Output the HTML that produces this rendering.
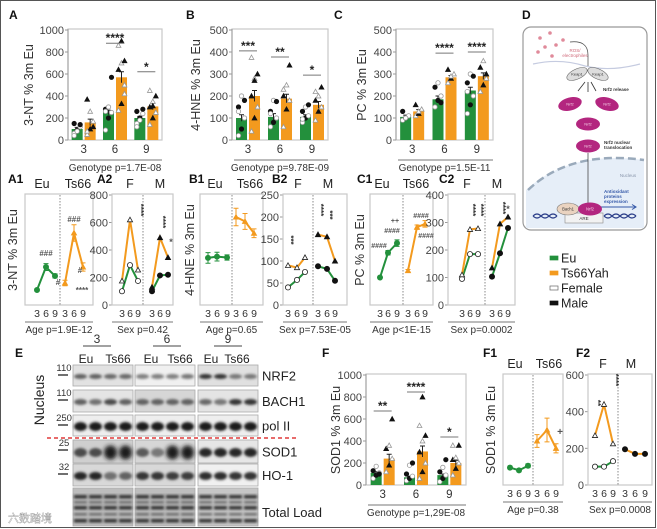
<!DOCTYPE html>
<html><head><meta charset="utf-8"><style>
html,body{margin:0;padding:0;background:#fff;}
svg{display:block;font-family:"Liberation Sans",Arial,sans-serif;}
</style></head><body>
<svg id="fig" width="657" height="529" viewBox="0 0 657 529" xmlns="http://www.w3.org/2000/svg">
<defs>
<filter id="blur1" x="-50%" y="-50%" width="200%" height="200%"><feGaussianBlur stdDeviation="1.2"/></filter>
<filter id="blur2" x="-50%" y="-50%" width="200%" height="200%"><feGaussianBlur stdDeviation="2"/></filter>
</defs>
<rect x="0.5" y="0.5" width="655" height="527" fill="none" stroke="#555" stroke-width="1"/>
<g id="root"></g>
</svg>
<script>
// ---------- DATA ----------
const ages = ['3','6','9'];
// Panel A (3-NT)
const A_eu = [100, 250, 200];
const A_ts = [160, 570, 305];
const A_euErr = [15, 20, 15];
const A_tsErr = [30, 50, 30];
const A_euDots = [[60,90,120,150,80,140,40],[90,200,250,280,300,570,260],[150,200,240,260,180,280,120]];
const A_tsDots = [[50,100,170,370,260,120,80],[270,330,420,640,700,720,860,900,500],[140,200,250,300,350,400,450,310]];
const A_stars = ['', '****', '*'];
const A_starY = [0, 880, 620];
const A_ticks = [0, 200, 400, 600, 800, 1000];
// Panel B (4-HNE)
const B_eu = [100, 105, 105];
const B_ts = [200, 188, 160];
const B_euErr = [15, 15, 10];
const B_tsErr = [25, 20, 15];
const B_euDots = [[20,50,100,150,200,180,130],[60,80,100,130,180,175,120],[80,100,110,130,150,160,95]];
const B_tsDots = [[40,100,150,200,280,300,375,270],[60,140,180,200,250,340,230],[90,130,150,180,200,240,220]];
const B_stars = ['***', '**', '*'];
const B_starY = [405, 377, 295];
const B_ticks = [0, 100, 200, 300, 400, 500];
// Panel C (PC)
const C_eu = [105, 185, 225];
const C_ts = [130, 285, 290];
const C_euErr = [8, 15, 15];
const C_tsErr = [8, 8, 15];
const C_euDots = [[90,100,110,130,100],[150,180,200,240,260,170],[120,160,200,260,300,290,220]];
const C_tsDots = [[110,120,140,160,130],[260,280,300,320,290],[220,250,280,330,360,300]];
const C_stars = ['', '****', '****'];
const C_starY = [0, 395, 400];
const C_ticks = [0, 100, 200, 300, 400, 500];
// Panel F (SOD1)
const F_eu = [110, 70, 90];
const F_ts = [240, 305, 200];
const F_euErr = [10, 10, 10];
const F_tsErr = [40, 50, 25];
const F_euDots = [[60,90,110,130,170,100],[40,60,80,100,180,200],[30,60,90,120,160,230]];
const F_tsDots = [[120,180,240,330,360,600],[60,120,200,300,400,450,540,800],[90,150,200,230,250,360,360]];
const F_stars = ['**', '****', '*'];
const F_starY = [673, 845, 436];
const F_ticks = [0, 200, 400, 600, 800, 1000];
// Age panels (Eu / Ts66 means)
const A1_eu = [109, 276, 211];
const A1_ts = [160, 524, 276];
const A1_euErr = [10, 25, 15];
const A1_tsErr = [20, 60, 30];
const B1_eu = [107, 110, 108];
const B1_ts = [200, 190, 163];
const B1_euErr = [12, 10, 6];
const B1_tsErr = [20, 18, 10];
const C1_eu = [100, 190, 225];
const C1_ts = [125, 283, 295];
const C1_euErr = [4, 8, 12];
const C1_tsErr = [4, 8, 12];
const F1_eu = [95, 80, 105];
const F1_ts = [240, 300, 200];
const F1_euErr = [8, 8, 10];
const F1_tsErr = [35, 65, 25];
// Sex panels: F-Eu, F-Ts, M-Eu, M-Ts
const A2_fEu = [100, 290, 175];
const A2_fTs = [175, 620, 255];
const A2_mEu = [100, 215, 220];
const A2_mTs = [130, 490, 345];
const B2_fEu = [40, 57, 75];
const B2_fTs = [90, 85, 108];
const B2_mEu = [88, 82, 55];
const B2_mTs = [160, 155, 100];
const C2_fEu = [95, 185, 185];
const C2_fTs = [110, 275, 278];
const C2_mEu = [103, 188, 280];
const C2_mTs = [135, 295, 320];
const F2_fEu = [100, 100, 130];
const F2_fTs = [270, 440, 225];
const F2_mTs = [195, 170, 170];
const A2_ticks = [0, 200, 400, 600, 800];
const B2_ticks = [0, 50, 100, 150, 200, 250];
const C2_ticks = [0, 100, 200, 300, 400];
const F2_ticks = [0, 200, 400, 600];

// ---------- HELPERS ----------
const NS = 'http://www.w3.org/2000/svg';
const root = document.getElementById('root');
const GREEN = '#23903c', ORANGE = '#f39a1e', GRID = '#c8c8c8';
function mk(tag, attrs, parent) {
  const el = document.createElementNS(NS, tag);
  for (const k in attrs) el.setAttribute(k, attrs[k]);
  (parent || root).appendChild(el);
  return el;
}
function txt(x, y, s, size, opts, parent) {
  const o = Object.assign({x: x, y: y, 'font-size': size, fill: '#222', 'text-anchor': 'middle'}, opts || {});
  const t = mk('text', o, parent);
  t.textContent = s;
  return t;
}
function lin(v, max, yTop, yBot) { return yBot - (v / max) * (yBot - yTop); }

function marker(g, x, y, kind, fill, stroke, r) {
  let el;
  if (kind === 'tri') {
    el = mk('polygon', {points: `${x},${y - r} ${x - r},${y + r * 0.8} ${x + r},${y + r * 0.8}`, fill: fill, stroke: stroke, 'stroke-width': 0.8}, g);
  } else {
    el = mk('circle', {cx: x, cy: y, r: r, fill: fill, stroke: stroke, 'stroke-width': 0.8}, g);
  }
  return el;
}

function barPanel(p) {
  const g = mk('g', {});
  
  
  const max = p.ticks[p.ticks.length - 1];
  const y = v => lin(v, max, p.yTop, p.yBot);
  const fr = mk('rect', {x: p.x0, y: p.yTop - 1, width: p.x1 - p.x0, height: p.yBot - p.yTop + 1, fill: 'none', stroke: GRID, 'stroke-width': 1.2}, g);
  
  
  const ax = mk('line', {x1: p.x0, y1: p.yTop - 1, x2: p.x0, y2: p.yBot, stroke: '#999', 'stroke-width': 1}, g);
  
  
  p.ticks.forEach(t => {
    const tk = mk('line', {x1: p.x0 - 3, y1: y(t), x2: p.x0, y2: y(t), stroke: '#999'}, g);
    
    
    const tl = txt(p.x0 - 4, y(t) + 4, String(t), 11, {'text-anchor': 'end', fill: '#444'}, g);
    
    
  });
  const yl = txt(0, 0, p.ylabel, 12.5, {transform: `translate(${p.ylx},${(p.yTop + p.yBot) / 2}) rotate(-90)`, fill: '#333'}, g);
  
  
  const bw = (p.x1 - p.x0) / 3;
  ages.forEach((a, i) => {
    const c = p.x0 + (i + 0.5) * bw;
    const w = 11;
    const b1 = mk('rect', {x: c - w - 1, y: y(p.eu[i]), width: w, height: p.yBot - y(p.eu[i]), fill: GREEN}, g);
    
    
    const b2 = mk('rect', {x: c + 1, y: y(p.ts[i]), width: w, height: p.yBot - y(p.ts[i]), fill: ORANGE}, g);
    
    
    [[c - w / 2 - 1, p.eu[i], p.euErr[i]], [c + w / 2 + 1, p.ts[i], p.tsErr[i]]].forEach(e => {
      const eb = mk('path', {d: `M${e[0]},${y(e[1] - e[2])}V${y(e[1] + e[2])}M${e[0] - 2.5},${y(e[1] + e[2])}H${e[0] + 2.5}`, stroke: '#222', 'stroke-width': 1, fill: 'none'}, g);
      
      
    });
    p.euDots[i].forEach((v, j) => {
      const d = marker(g, c - w / 2 - 1 + ((j % 3) - 1) * 3, y(v), 'circle', j % 2 ? '#111' : '#fff', j % 2 ? '#111' : '#999', 2.2);
      
      
    });
    p.tsDots[i].forEach((v, j) => {
      const d = marker(g, c + w / 2 + 1 + ((j % 3) - 1) * 3, y(v), 'tri', j % 2 ? '#111' : '#fff', j % 2 ? '#111' : '#999', 2.4);
      
      
    });
    const xl = txt(c, p.yBot + 13, a, 11.5, {fill: '#333'}, g);
    
    
    if (p.stars[i]) {
      const sl = mk('line', {x1: c - 9, y1: y(p.starY[i]), x2: c + 9, y2: y(p.starY[i]), stroke: '#777'}, g);
      
      
      const st = txt(c, y(p.starY[i]) - 1, p.stars[i], 12, {'font-weight': 'bold'}, g);
      
      
    }
  });
  const ul = mk('line', {x1: p.x0 + 2, y1: p.yBot + 20, x2: p.x1, y2: p.yBot + 20, stroke: '#777'}, g);
  
  
  const stt = txt((p.x0 + p.x1) / 2, p.yBot + 31, p.stat, 10, {fill: '#333'}, g);
  
  
}

function panelLetter(x, y, s, name) {
  const t = txt(x, y, s, 12, {'font-weight': 'bold', 'text-anchor': 'start', fill: '#111'});
  
  
}

function series(g, xs, vals, errs, max, yTop, yBot, color, kind, fill, stroke, name) {
  const y = v => lin(v, max, yTop, yBot);
  const pl = mk('polyline', {points: xs.map((x, i) => `${x},${y(vals[i])}`).join(' '), fill: 'none', stroke: color, 'stroke-width': 2}, g);
  
  
  xs.forEach((x, i) => {
    if (errs) {
      const e = errs[i];
      const eb = mk('path', {d: `M${x},${y(vals[i] - e)}V${y(vals[i] + e)}M${x - 2.5},${y(vals[i] + e)}H${x + 2.5}M${x - 2.5},${y(vals[i] - e)}H${x + 2.5}`, stroke: color, 'stroke-width': 1, fill: 'none'}, g);
      
      
    }
    const m = marker(g, x, y(vals[i]), kind, fill, stroke, 2.6);
    
    
  });
}

function linePanel(p) {
  const g = mk('g', {});
  
  
  const fr = mk('rect', {x: p.x0, y: p.yTop - 1, width: p.x1 - p.x0, height: p.yBot - p.yTop + 1, fill: 'none', stroke: GRID, 'stroke-width': 1.2}, g);
  
  
  const dv = mk('line', {x1: p.xd, y1: p.yTop, x2: p.xd, y2: p.yBot, stroke: '#888', 'stroke-dasharray': '1.5,1.5'}, g);
  
  
  p.heads.forEach((h, i) => {
    const t = txt(p.headX[i], p.yTop - 7, h, 12.5, {fill: '#222'}, g);
    
    
  });
  p.xs.forEach((x, i) => {
    const t = txt(x, p.yBot + 12, ages[i % 3], 10.5, {fill: '#333'}, g);
    
    
  });
  const ul = mk('line', {x1: p.x0, y1: p.yBot + 17, x2: p.x1, y2: p.yBot + 17, stroke: '#777'}, g);
  
  
  const st = txt((p.x0 + p.x1) / 2, p.yBot + 28, p.stat, 10, {fill: '#333'}, g);
  
  
  return g;
}

function yAxis(x, ticks, yTop, yBot, side, title, tx) {
  const g = mk('g', {});
  
  
  const max = ticks[ticks.length - 1];
  const l = mk('line', {x1: x, y1: yTop - 1, x2: x, y2: yBot, stroke: '#999'}, g);
  
  
  ticks.forEach(t => {
    const yy = lin(t, max, yTop, yBot);
    const tk = mk('line', {x1: x - 3, y1: yy, x2: x, y2: yy, stroke: '#999'}, g);
    
    
    const tl = txt(side === 'left' ? x - 4 : x + 4, yy + 4, String(t), 11, {'text-anchor': side === 'left' ? 'end' : 'start', fill: '#444'}, g);
    
    
  });
  if (title) {
    const yt = txt(0, 0, title, 12.5, {transform: `translate(${tx},${(yTop + yBot) / 2}) rotate(-90)`, fill: '#333'}, g);
    
    
  }
}

function note(x, y, s, size, rot) {
  const t = txt(x, y, s, size || 9, rot ? {transform: `rotate(90 ${x} ${y})`, 'font-weight': 'bold', fill: '#333'} : {'font-weight': 'bold', fill: '#555'});
  
  
}

// ---------- TOP ROW ----------
panelLetter(9, 19, 'A', 'panel-label-a');
panelLetter(186, 19, 'B', 'panel-label-b');
panelLetter(334, 19, 'C', 'panel-label-c');
barPanel({name: 'chart-a-3nt', x0: 68, x1: 162, yTop: 30, yBot: 140, ticks: A_ticks, ylabel: '3-NT % 3m Eu', ylx: 33, eu: A_eu, ts: A_ts, euErr: A_euErr, tsErr: A_tsErr, euDots: A_euDots, tsDots: A_tsDots, stars: A_stars, starY: A_starY, stat: 'Genotype p=1.7E-08'});
barPanel({name: 'chart-b-4hne', x0: 232, x1: 328, yTop: 30, yBot: 140, ticks: B_ticks, ylabel: '4-HNE % 3m Eu', ylx: 200, eu: B_eu, ts: B_ts, euErr: B_euErr, tsErr: B_tsErr, euDots: B_euDots, tsDots: B_tsDots, stars: B_stars, starY: B_starY, stat: 'Genotype p=9.78E-09'});
barPanel({name: 'chart-c-pc', x0: 396, x1: 493, yTop: 30, yBot: 140, ticks: C_ticks, ylabel: 'PC % 3m Eu', ylx: 366, eu: C_eu, ts: C_ts, euErr: C_euErr, tsErr: C_tsErr, euDots: C_euDots, tsDots: C_tsDots, stars: C_stars, starY: C_starY, stat: 'Genotype p=1.5E-11'});

// ---------- SECOND ROW ----------
const R2T = 195, R2B = 305;
panelLetter(8, 183, 'A1', 'panel-label-a1');
panelLetter(97, 183, 'A2', 'panel-label-a2');
panelLetter(189, 183, 'B1', 'panel-label-b1');
panelLetter(272, 183, 'B2', 'panel-label-b2');
panelLetter(357, 183, 'C1', 'panel-label-c1');
panelLetter(439, 183, 'C2', 'panel-label-c2');
let g = linePanel({name: 'chart-a1-age', x0: 25, x1: 93, xd: 60, yTop: R2T, yBot: R2B, heads: ['Eu', 'Ts66'], headX: [42, 78], xs: [37, 46, 55, 65, 74, 83], stat: 'Age p=1.9E-12'});
series(g, [37, 46, 55], A1_eu, A1_euErr, 800, R2T, R2B, GREEN, 'circle', GREEN, GREEN, 'a1-eu');
series(g, [65, 74, 83], A1_ts, A1_tsErr, 800, R2T, R2B, ORANGE, 'tri', ORANGE, ORANGE, 'a1-ts66');
note(46, 256, '###', 8); note(58, 285, '#', 8); note(74, 222, '###', 8); note(80, 273, '#', 8); note(82, 293, '****', 8);
yAxis(112, A2_ticks, R2T, R2B, 'left', '3-NT % 3m Eu', 17);
g = linePanel({name: 'chart-a2-sex', x0: 112, x1: 173, xd: 143, yTop: R2T, yBot: R2B, heads: ['F', 'M'], headX: [130, 160], xs: [122, 130, 138, 152, 160, 168], stat: 'Sex p=0.42'});
series(g, [122, 130, 138], A2_fEu, null, 800, R2T, R2B, GREEN, 'circle', '#fff', '#222', 'a2-female-eu');
series(g, [122, 130, 138], A2_fTs, null, 800, R2T, R2B, ORANGE, 'tri', '#fff', '#222', 'a2-female-ts66');
series(g, [152, 160, 168], A2_mEu, null, 800, R2T, R2B, GREEN, 'circle', '#111', '#111', 'a2-male-eu');
series(g, [152, 160, 168], A2_mTs, null, 800, R2T, R2B, ORANGE, 'tri', '#111', '#111', 'a2-male-ts66');
note(138, 210, '****', 8, true); note(160, 222, '****', 8, true); note(171, 245, '*', 9);
g = linePanel({name: 'chart-b1-age', x0: 200, x1: 263, xd: 232, yTop: R2T, yBot: R2B, heads: ['Eu', 'Ts66'], headX: [215, 250], xs: [208, 217, 227, 236, 245, 254], stat: 'Age p=0.65'});
series(g, [208, 217, 227], B1_eu, B1_euErr, 250, R2T, R2B, GREEN, 'circle', GREEN, GREEN, 'b1-eu');
series(g, [236, 245, 254], B1_ts, B1_tsErr, 250, R2T, R2B, ORANGE, 'tri', ORANGE, ORANGE, 'b1-ts66');
yAxis(283, B2_ticks, R2T, R2B, 'left', '4-HNE % 3m Eu', 194);
g = linePanel({name: 'chart-b2-sex', x0: 283, x1: 347, xd: 313, yTop: R2T, yBot: R2B, heads: ['F', 'M'], headX: [298, 328], xs: [288, 297, 305, 318, 327, 335], stat: 'Sex p=7.53E-05'});
series(g, [288, 297, 305], B2_fEu, null, 250, R2T, R2B, GREEN, 'circle', '#fff', '#222', 'b2-female-eu');
series(g, [288, 297, 305], B2_fTs, null, 250, R2T, R2B, ORANGE, 'tri', '#fff', '#222', 'b2-female-ts66');
series(g, [318, 327, 335], B2_mEu, null, 250, R2T, R2B, GREEN, 'circle', '#111', '#111', 'b2-male-eu');
series(g, [318, 327, 335], B2_mTs, null, 250, R2T, R2B, ORANGE, 'tri', '#111', '#111', 'b2-male-ts66');
note(288, 240, '***', 8, true); note(318, 210, '****', 8, true); note(327, 215, '***', 8, true);
g = linePanel({name: 'chart-c1-age', x0: 370, x1: 433, xd: 403, yTop: R2T, yBot: R2B, heads: ['Eu', 'Ts66'], headX: [382, 416], xs: [380, 388, 397, 408, 417, 425], stat: 'Age p<1E-15'});
series(g, [380, 388, 397], C1_eu, C1_euErr, 400, R2T, R2B, GREEN, 'circle', GREEN, GREEN, 'c1-eu');
series(g, [408, 417, 425], C1_ts, C1_tsErr, 400, R2T, R2B, ORANGE, 'tri', ORANGE, ORANGE, 'c1-ts66');
note(379, 248, '####', 7); note(392, 233, '####', 7); note(395, 223, '++', 7); note(421, 218, '####', 7); note(426, 238, '####', 7);
yAxis(448, C2_ticks, R2T, R2B, 'left', 'PC % 3m Eu', 364);
g = linePanel({name: 'chart-c2-sex', x0: 448, x1: 515, xd: 485, yTop: R2T, yBot: R2B, heads: ['F', 'M'], headX: [467, 497], xs: [462, 470, 478, 492, 500, 508], stat: 'Sex p=0.0002'});
series(g, [462, 470, 478], C2_fEu, null, 400, R2T, R2B, GREEN, 'circle', '#fff', '#222', 'c2-female-eu');
series(g, [462, 470, 478], C2_fTs, null, 400, R2T, R2B, ORANGE, 'tri', '#fff', '#222', 'c2-female-ts66');
series(g, [492, 500, 508], C2_mEu, null, 400, R2T, R2B, GREEN, 'circle', '#111', '#111', 'c2-male-eu');
series(g, [492, 500, 508], C2_mTs, null, 400, R2T, R2B, ORANGE, 'tri', '#111', '#111', 'c2-male-ts66');
note(470, 210, '****', 8, true); note(478, 210, '****', 8, true); note(500, 208, '****', 8, true); note(508, 212, '*', 9);

// ---------- PANEL D (diagram) ----------
(function () {
  const d = mk('g', {});
  
  
  panelLetter(522, 19, 'D', 'panel-label-d');
  const box = mk('rect', {x: 523, y: 27, width: 124, height: 203, rx: 8, fill: '#fff', stroke: '#999', 'stroke-width': 1.2}, d);
  
  
  const nuc = mk('path', {d: 'M526,228 L526,190 Q570,150 644,160 L644,228 Z', fill: '#e6eef8', stroke: 'none'}, d);
  
  
  const nucE = mk('path', {d: 'M528,190 Q570,150 644,160', fill: 'none', stroke: '#9aaabb', 'stroke-width': 2.5, 'stroke-dasharray': '8,4'}, d);
  
  
  const mem = mk('path', {d: 'M533,64 Q560,58 585,66 Q610,72 640,64', fill: 'none', stroke: '#c5cbe0', 'stroke-width': 1.2}, d);
  
  
  [[540, 38], [550, 33], [545, 47], [556, 45], [563, 40], [538, 52], [552, 56]].forEach(pt => {
    const c = mk('circle', {cx: pt[0], cy: pt[1], r: 1.8, fill: '#e08a9a'}, d);
    
    
  });
  const ros = txt(575, 52, 'ROS/', 4.5, {fill: '#d06a7a'}, d);
  
  
  const ros2 = txt(575, 57, 'electrophiles', 4.5, {fill: '#d06a7a'}, d);
  
  
  const ar0 = mk('path', {d: 'M570,42 Q588,40 588,55 V66', fill: 'none', stroke: '#444', 'stroke-width': 0.7}, d);
  
  
  [[577, 'Keap1', -25], [598, 'Keap1', 25]].forEach(k => {
    const e = mk('ellipse', {cx: k[0], cy: 74, rx: 11, ry: 5, fill: '#ddd', stroke: '#666', 'stroke-width': 0.6, transform: `rotate(${k[2]} ${k[0]} 74)`}, d);
    
    
    const t = txt(k[0], 75.5, k[1], 4, {fill: '#333'}, d);
    
    
  });
  const arr = mk('path', {d: 'M585,82 L578,91 M588,82 V92 M591,82 L596,91', stroke: '#333', 'stroke-width': 0.8, fill: 'none'}, d);
  
  
  const rl = txt(603, 91, 'Nrf2 release', 4.5, {'text-anchor': 'start', fill: '#333', 'font-weight': 'bold'}, d);
  
  
  [[570, 104, -15], [607, 104, 15], [588, 124, 0], [588, 146, 0]].forEach(n => {
    const e = mk('ellipse', {cx: n[0], cy: n[1], rx: 12, ry: 6.5, fill: '#b3267f', transform: `rotate(${n[2]} ${n[0]} ${n[1]})`}, d);
    
    
    const t = txt(n[0], n[1] + 1.5, 'Nrf2', 4, {fill: '#f4d0e6'}, d);
    
    
  });
  const tl1 = txt(604, 144, 'Nrf2 nuclear', 4.5, {'text-anchor': 'start', fill: '#333', 'font-weight': 'bold'}, d);
  
  
  const tl2 = txt(604, 149, 'translocation', 4.5, {'text-anchor': 'start', fill: '#333', 'font-weight': 'bold'}, d);
  
  
  const nl = txt(628, 177, 'Nucleus', 4.5, {fill: '#8895aa'}, d);
  
  
  const va = mk('line', {x1: 588, y1: 153, x2: 588, y2: 204, stroke: '#333', 'stroke-width': 0.7}, d);
  
  
  ['Antioxidant', 'proteins', 'expression'].forEach((s, i) => {
    const t = txt(604, 193 + i * 5, s, 4.5, {'text-anchor': 'start', fill: '#3458a8', 'font-weight': 'bold'}, d);
    
    
  });
  const ea = mk('path', {d: 'M600,207 H636 M632,204.5 L636,207 L632,209.5', stroke: '#3458a8', 'stroke-width': 1, fill: 'none'}, d);
  
  
  const dna = mk('path', {d: 'M533,216 q4,-4 8,0 q4,4 8,0 q4,-4 8,0 M533,216 q4,4 8,0 q4,-4 8,0 q4,4 8,0 M604,216 q4,-4 8,0 q4,4 8,0 q4,-4 8,0 q4,4 8,0 M604,216 q4,4 8,0 q4,-4 8,0 q4,4 8,0 q4,-4 8,0', stroke: '#2c3f8a', 'stroke-width': 1.2, fill: 'none'}, d);
  
  
  const are = mk('rect', {x: 565, y: 213, width: 38, height: 10, fill: '#f2f2f2', stroke: '#888', 'stroke-width': 0.6}, d);
  
  
  const aret = txt(584, 220, 'ARE', 4.5, {fill: '#333'}, d);
  
  
  const b1 = mk('ellipse', {cx: 568, cy: 209, rx: 11, ry: 6, fill: '#ead3c0', stroke: '#777', 'stroke-width': 0.6}, d);
  
  
  const b1t = txt(568, 210.5, 'Bach1', 4.2, {fill: '#333'}, d);
  
  
  const n2 = mk('ellipse', {cx: 590, cy: 209, rx: 12, ry: 6.5, fill: '#b3267f'}, d);
  
  
  const n2t = txt(590, 210.5, 'Nrf2', 4.2, {fill: '#f4d0e6'}, d);
  
  
})();

// ---------- LEGEND ----------
(function () {
  const lg = mk('g', {});
  
  
  const items = [['Eu', GREEN, GREEN], ['Ts66Yah', ORANGE, ORANGE], ['Female', '#fff', '#666'], ['Male', '#111', '#111']];
  items.forEach((it, i) => {
    const yy = 258 + i * 15;
    const sw = mk('rect', {x: 550, y: yy - 2, width: 8, height: 4, fill: it[1], stroke: it[2], 'stroke-width': 0.7}, lg);
    
    
    const t = txt(561, yy + 4.5, it[0], 12.5, {'text-anchor': 'start', fill: '#222'}, lg);
    
    
  });
})();

// ---------- PANEL E (western blots) ----------
const blotCols = [[73, 133], [135, 195], [198, 258]];
const blotRows = [
  {name: 'NRF2', y0: 365, y1: 386, mw: '110', band: [.55,.55,.5,.5, .35,.35,.35,.4, .85,.85,.4,.4], bh: 2.5, bg: ['#e2e2e2','#f0f0f0','#e0e0e0']},
  {name: 'BACH1', y0: 390, y1: 412, mw: '110', band: [.55,.45,.7,.55, .55,.55,.55,.55, .5,.4,.85,.85], bh: 3, bg: ['#e4e4e4','#d6d6d6','#e4e4e4']},
  {name: 'pol II', y0: 415, y1: 436, mw: '250', band: [1,1,1,1,1,1,1,1,1,1,1,1], bh: 4.5, bg: ['#eee','#eee','#eee']},
  {name: 'SOD1', y0: 440, y1: 463, mw: '25', band: [.7,.7,1,1, .6,.4,1,1, .95,.95,.95,.95], bh: 4.5, bg: ['#cfcfcf','#d6d6d6','#e6e6e6']},
  {name: 'HO-1', y0: 464, y1: 486, mw: '32', band: [.95,.95,.45,.55, .85,.85,.8,.8, .9,.9,.85,.85], bh: 4, bg: ['#d8d8d8','#d8d8d8','#f0f0f0']},
  {name: 'Total Load', y0: 488, y1: 526, mw: '', band: [.7,.7,.7,.7,.7,.7,.7,.7,.7,.7,.7,.7], bh: 3, bg: ['#bdbdbd','#bdbdbd','#c6c6c6']}
];
(function () {
  const e = mk('g', {});
  
  
  panelLetter(15, 357, 'E', 'panel-label-e');
  const agesX = [97, 167, 228];
  ages.forEach((a, i) => {
    const t = txt(agesX[i], 343, a, 12, {fill: '#333'}, e);
    
    
    const l = mk('line', {x1: agesX[i] - 14, y1: 346, x2: agesX[i] + 14, y2: 346, stroke: '#444'}, e);
    
    
  });
  [[86, 'Eu'], [118, 'Ts66'], [151, 'Eu'], [180, 'Ts66'], [211, 'Eu'], [237, 'Ts66']].forEach(h => {
    const t = txt(h[0], 363, h[1], 12, {fill: '#222'}, e);
    
    
  });
  const nu = txt(0, 0, 'Nucleus', 14, {transform: 'translate(44,400) rotate(-90)', fill: '#222'}, e);
  
  
  blotRows.forEach((r, ri) => {
    blotCols.forEach((c, ci) => {
      const bg = mk('rect', {x: c[0], y: r.y0, width: c[1] - c[0], height: r.y1 - r.y0, fill: r.bg[ci], stroke: '#aaa', 'stroke-width': 0.8}, e);
      
      
      const w = (c[1] - c[0]) / 4;
      for (let l = 0; l < 4; l++) {
        const lane = ci * 4 + l;
        const cx = c[0] + (l + 0.5) * w;
        const v = r.band[lane];
        const col = `rgb(${Math.round(30 + (1 - v) * 150)},${Math.round(30 + (1 - v) * 150)},${Math.round(30 + (1 - v) * 150)})`;
        if (r.name === 'Total Load') {
          [495, 501, 506, 513, 519].forEach((yy, k) => {
            const b = mk('rect', {x: cx - w / 2 + 1, y: yy, width: w - 2, height: k % 2 ? 2.5 : 3.5, fill: k % 2 ? '#666' : '#333', filter: 'url(#blur1)'}, e);
            
            
          });
        } else {
          const big = r.name === 'SOD1' && v > 0.99 && ci < 2;
          const b = mk('ellipse', {cx: cx, cy: (r.y0 + r.y1) / 2 + 1, rx: w / 2 - 1, ry: big ? 7 : r.bh, fill: col, filter: big ? 'url(#blur2)' : 'url(#blur1)'}, e);
          
          
        }
      }
    });
    const lbl = txt(262, r.name === 'Total Load' ? 517 : (r.y0 + r.y1) / 2 + 5, r.name, 13, {'text-anchor': 'start', fill: '#222'}, e);
    
    
    if (r.mw) {
      const mw = txt(64, r.y0 + 6, r.mw, 9.5, {fill: '#333'}, e);
      
      
      const md = mk('line', {x1: 58, y1: r.y0 + 10, x2: 68, y2: r.y0 + 10, stroke: '#333', 'stroke-width': 1.4}, e);
      
      
    }
  });
  const rd = mk('line', {x1: 47, y1: 438, x2: 297, y2: 438, stroke: '#e03a3a', 'stroke-width': 1.5, 'stroke-dasharray': '4,3'}, e);
  
  
  const wm = txt(8, 522, '六数踏境', 11, {'text-anchor': 'start', fill: '#fff', stroke: '#999', 'stroke-width': 0.4, 'font-family': '"Liberation Sans","Noto Sans CJK SC",sans-serif'}, e);
  
  
})();

// ---------- PANEL F ----------
panelLetter(322, 357, 'F', 'panel-label-f');
barPanel({name: 'chart-f-sod1', x0: 366, x1: 466, yTop: 375, yBot: 485, ticks: F_ticks, ylabel: 'SOD1 % 3m Eu', ylx: 340, eu: F_eu, ts: F_ts, euErr: F_euErr, tsErr: F_tsErr, euDots: F_euDots, tsDots: F_tsDots, stars: F_stars, starY: F_starY, stat: 'Genotype p=1,29E-08'});
panelLetter(483, 357, 'F1', 'panel-label-f1');
panelLetter(576, 357, 'F2', 'panel-label-f2');
const R3T = 375, R3B = 485;
g = linePanel({name: 'chart-f1-age', x0: 503, x1: 563, xd: 533, yTop: R3T, yBot: R3B, heads: ['Eu', 'Ts66'], headX: [515, 549], xs: [510, 519, 528, 537, 547, 556], stat: 'Age p=0.38'});
series(g, [510, 519, 528], F1_eu, F1_euErr, 600, R3T, R3B, GREEN, 'circle', GREEN, GREEN, 'f1-eu');
series(g, [537, 547, 556], F1_ts, F1_tsErr, 600, R3T, R3B, ORANGE, 'tri', ORANGE, ORANGE, 'f1-ts66');
note(560, 435, '+', 10);
const f1t = txt(0, 0, 'SOD1 % 3m Eu', 12.5, {transform: `translate(495,${(R3T + R3B) / 2}) rotate(-90)`, fill: '#333'});


yAxis(588, F2_ticks, R3T, R3B, 'left', null, 0);
g = linePanel({name: 'chart-f2-sex', x0: 588, x1: 652, xd: 618, yTop: R3T, yBot: R3B, heads: ['F', 'M'], headX: [603, 631], xs: [595, 604, 613, 625, 635, 645], stat: 'Sex p=0.0008'});
series(g, [595, 604, 613], F2_fEu, null, 600, R3T, R3B, GREEN, 'circle', '#fff', '#222', 'f2-female-eu');
series(g, [595, 604, 613], F2_fTs, null, 600, R3T, R3B, ORANGE, 'tri', '#fff', '#222', 'f2-female-ts66');
series(g, [625, 635, 645], F2_mTs, null, 600, R3T, R3B, ORANGE, 'circle', '#111', '#111', 'f2-male');
note(595, 403, '**', 8, true); note(613, 380, '****', 8, true);
</script>
</body></html>
